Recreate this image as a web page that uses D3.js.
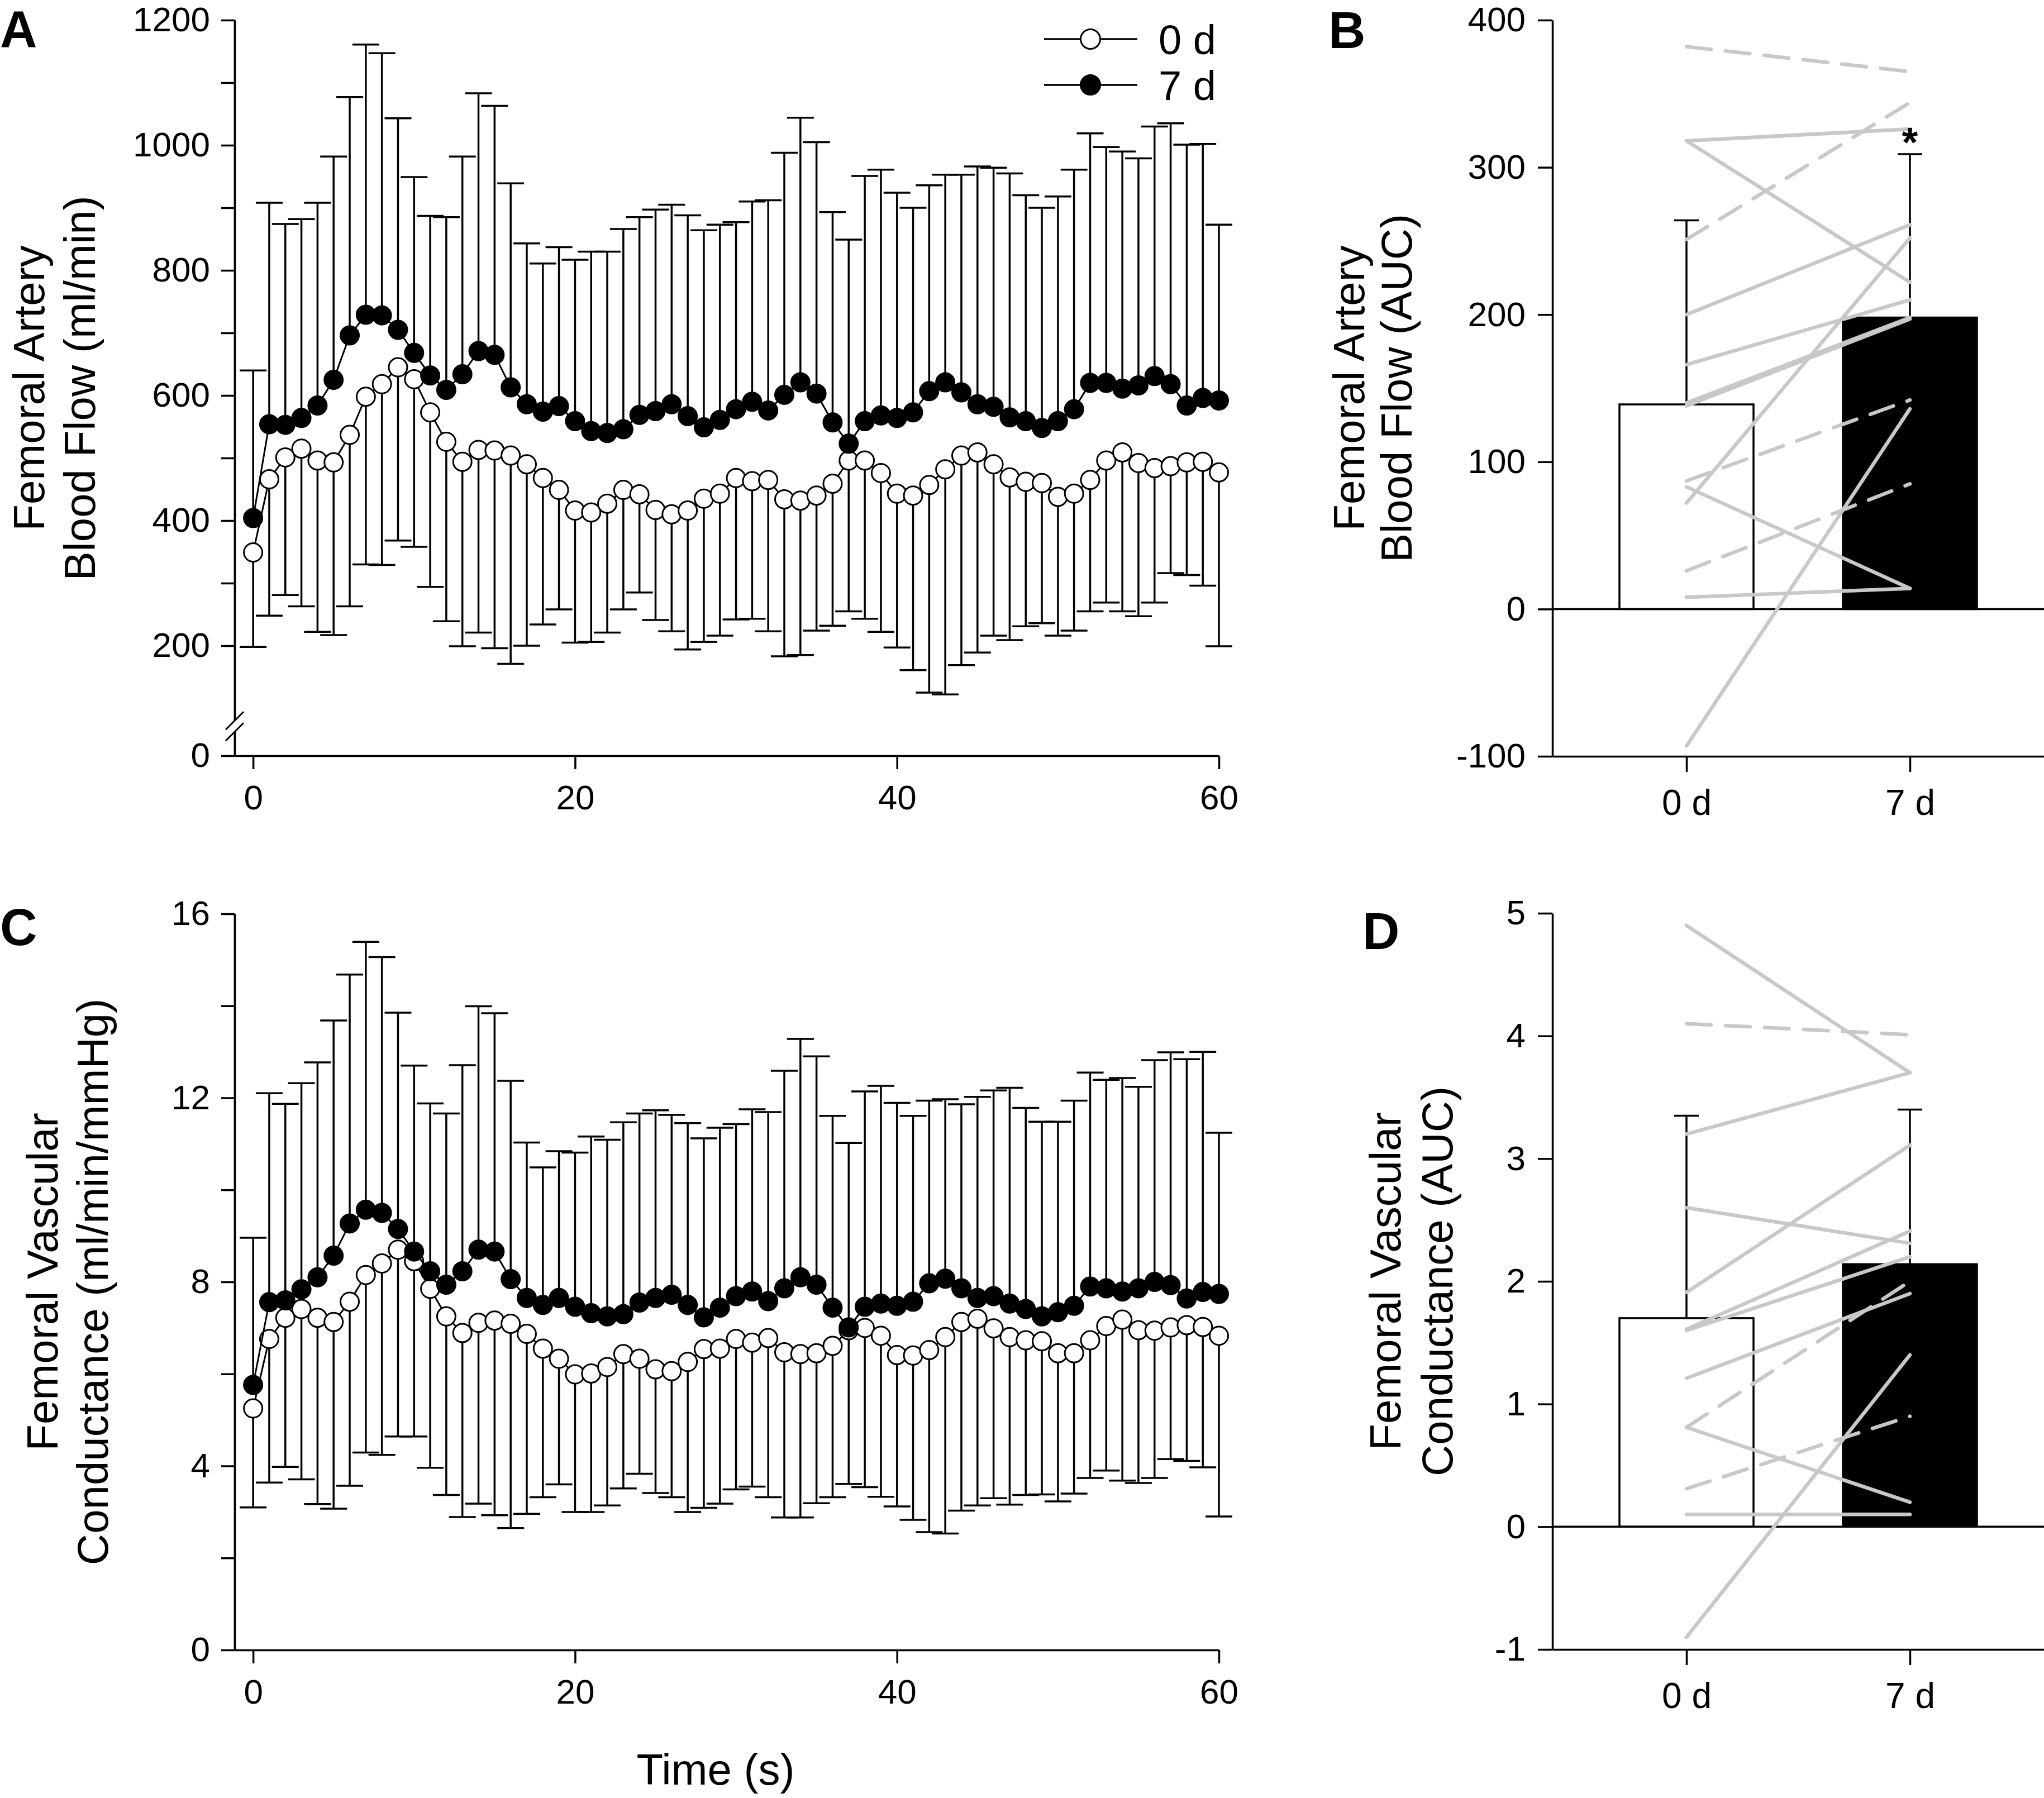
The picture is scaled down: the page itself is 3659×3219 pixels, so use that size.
<!DOCTYPE html>
<html>
<head>
<meta charset="utf-8">
<script src="https://cdn.jsdelivr.net/npm/d3@7"></script>
<style>
  body { margin: 0; background: #fff; }
  svg text { font-family: "Liberation Sans", Arial, Helvetica, sans-serif; fill: #000; }
</style>
</head>
<body>
<div id="chart"></div>
<script>
// time points (s)
const seconds = d3.range(0, 61);

// A: femoral artery blood flow (ml/min)
const flow0 = [349,466,501,515,496,493,537,598,618,645,626,573,526,494,513,512,504,490,468,449,416,413,427,449,442,417,410,416,435,443,468,463,465,434,432,440,459,496,496,476,443,440,457,482,504,509,490,469,462,460,438,443,465,496,509,492,484,487,493,494,477];
const flow0Low = [198,248,281,263,222,217,263,330,329,368,358,294,239,199,221,196,171,200,234,258,205,206,221,258,285,241,223,194,206,216,242,243,223,183,185,224,232,255,243,222,197,161,125,122,169,189,216,209,231,236,216,224,255,269,255,247,269,316,313,296,199];
const flow7 = [404,554,553,564,584,625,696,729,728,705,668,632,609,634,671,665,613,586,574,583,559,543,540,546,569,575,586,567,549,561,578,590,576,601,621,603,557,523,559,568,564,573,607,621,605,586,582,565,559,548,559,578,620,620,611,616,631,618,584,596,592];
const flow7High = [640,908,874,882,908,982,1077,1161,1147,1043,949,887,885,982,1083,1063,939,843,811,837,817,830,830,866,885,897,905,888,864,873,877,910,912,988,1044,1005,893,849,951,961,924,900,936,953,953,966,964,955,920,900,918,961,1019,997,990,979,1030,1035,1001,1002,873];

// C: femoral vascular conductance (ml/min/mmHg)
const cond0 = [5.25,6.76,7.22,7.41,7.22,7.13,7.57,8.15,8.40,8.70,8.45,7.85,7.25,6.89,7.11,7.16,7.09,6.87,6.55,6.33,5.99,6.01,6.15,6.43,6.33,6.10,6.06,6.26,6.54,6.55,6.76,6.68,6.78,6.47,6.43,6.45,6.61,6.95,7.00,6.83,6.41,6.40,6.52,6.80,7.13,7.20,6.99,6.80,6.73,6.71,6.45,6.45,6.73,7.04,7.18,6.95,6.94,7.01,7.06,7.02,6.83];
const cond0Low = [3.10,3.64,3.98,3.71,3.17,3.07,3.57,4.29,4.24,4.64,4.64,3.96,3.37,2.89,3.18,2.93,2.65,2.96,3.32,3.60,3.00,3.00,3.14,3.51,3.83,3.41,3.32,3.00,3.09,3.18,3.49,3.55,3.32,2.88,2.88,3.19,3.32,3.61,3.54,3.33,3.12,2.83,2.56,2.53,3.03,3.14,3.30,3.16,3.37,3.38,3.23,3.40,3.74,3.90,3.68,3.63,3.74,4.15,4.11,3.97,2.90];
const cond7 = [5.76,7.56,7.60,7.84,8.10,8.57,9.27,9.57,9.50,9.15,8.66,8.23,7.94,8.23,8.70,8.66,8.06,7.65,7.50,7.65,7.46,7.32,7.25,7.30,7.55,7.65,7.72,7.50,7.23,7.44,7.69,7.79,7.58,7.86,8.10,7.94,7.44,7.01,7.46,7.53,7.48,7.57,7.97,8.07,7.86,7.65,7.69,7.53,7.41,7.25,7.34,7.48,7.90,7.86,7.79,7.86,8.00,7.93,7.64,7.78,7.74];
const cond7High = [8.96,12.10,11.87,12.32,12.77,13.68,14.68,15.39,15.06,13.85,12.70,11.88,11.66,12.71,13.99,13.84,12.37,11.03,10.49,10.84,10.81,11.16,11.09,11.47,11.66,11.73,11.63,11.45,11.12,11.35,11.43,11.75,11.69,12.59,13.28,12.90,11.61,11.02,12.14,12.26,11.89,11.61,11.94,11.97,11.86,12.02,12.16,12.22,11.78,11.48,11.48,11.94,12.55,12.39,12.43,12.24,12.82,12.99,12.84,13.00,11.24];

// B and D: area under the curve, group means and individual subjects
const days = ['0 d', '7 d'];
const flowAuc = [139, 198];
const flowAucErr = [264, 309];
const flowSubj0 = [382, 318, 318, 251, 200, 166, 140, 138, 87, 83, 72, 26, 8, -93];
const flowSubj7 = [365, 326, 222, 344, 261, 210, 198, 197, 142, 14, 252, 85, 14, 136];
const flowSubjDashed = [true, false, false, true, false, false, false, false, true, false, false, true, false, false];

const condAuc = [1.70, 2.14];
const condAucErr = [3.35, 3.40];
const condSubj0 = [4.90, 4.10, 3.20, 2.60, 1.91, 1.61, 1.60, 1.21, 0.81, 0.81, 0.31, 0.10, -0.90];
const condSubj7 = [3.70, 4.01, 3.70, 2.31, 3.11, 2.41, 2.20, 1.90, 2.00, 0.20, 0.90, 0.10, 1.40];
const condSubjDashed = [false, true, false, false, false, false, false, false, true, false, true, false, false];

const width = 3659;
const height = 3219;
const tickFont = 62;
const titleFont = 78;

const svg = d3.select('#chart')
    .append('svg')
        .attr('width', width)
        .attr('height', height)
        .style('background', '#fff');

svg.append('rect').attr('width', width).attr('height', height).attr('fill', '#fff');

const x = d3.scaleLinear()
    .domain([-1.15, 60])
    .range([420, 2182]);
const yA = d3.scaleLinear()
    .domain([0, 100, 1200])
    .range([1353, 1268, 36]);
const yC = d3.scaleLinear()
    .domain([0, 16])
    .range([2954, 1636]);

const plain = d => String(d);

function styleAxis(g, size) {
    g.select('.domain').attr('stroke-width', 3.5);
    g.selectAll('.tick line').attr('stroke-width', 3.5);
    g.selectAll('.tick text')
        .style('font-size', size + 'px')
        .style('font-family', '"Liberation Sans", Arial, sans-serif');
}

function yTitle(g, lines, cx, cy) {
    lines.forEach((t, i) => {
        g.append('text')
            .attr('transform', `translate(${cx[i]},${cy}) rotate(-90)`)
            .attr('text-anchor', 'middle')
            .attr('dy', '0.35em')
            .style('font-size', titleFont + 'px')
            .text(t);
    });
}

function drawTime(y, mean0, low0, mean7, high7, major, minor) {
    const g = svg.append('g');
    const y0 = y.range()[0];

    g.append('g')
        .attr('transform', `translate(0,${y0})`)
        .call(d3.axisBottom(x)
            .tickValues([0, 20, 40, 60])
            .tickSize(24)
            .tickSizeOuter(0)
            .tickPadding(28)
            .tickFormat(plain))
        .call(g => styleAxis(g, tickFont));

    g.append('g')
        .attr('transform', `translate(${x.range()[0]},0)`)
        .call(d3.axisLeft(y)
            .tickValues(minor)
            .tickSize(24)
            .tickSizeOuter(0)
            .tickFormat(''))
        .call(g => styleAxis(g, tickFont));
    g.append('g')
        .attr('transform', `translate(${x.range()[0]},0)`)
        .call(d3.axisLeft(y)
            .tickValues(major)
            .tickSize(24)
            .tickSizeOuter(0)
            .tickPadding(20)
            .tickFormat(plain))
        .call(g => styleAxis(g, tickFont));

    const line = d3.line()
        .x((d, i) => x(seconds[i]))
        .y(d => y(d));

    // 0 d: error bars down, line, open circles
    const e0 = g.append('g').attr('stroke', '#000').attr('stroke-width', 3.5);
    e0.selectAll('line.stem')
        .data(mean0)
        .join('line')
            .attr('class', 'stem')
            .attr('x1', (d, i) => x(seconds[i]))
            .attr('x2', (d, i) => x(seconds[i]))
            .attr('y1', d => y(d))
            .attr('y2', (d, i) => y(low0[i]));
    e0.selectAll('line.cap')
        .data(low0)
        .join('line')
            .attr('class', 'cap')
            .attr('x1', (d, i) => x(seconds[i]) - 24)
            .attr('x2', (d, i) => x(seconds[i]) + 24)
            .attr('y1', d => y(d))
            .attr('y2', d => y(d));
    g.append('path')
        .attr('d', line(mean0))
        .attr('fill', 'none')
        .attr('stroke', '#000')
        .attr('stroke-width', 3);
    g.append('g')
        .selectAll('circle')
        .data(mean0)
        .join('circle')
            .attr('cx', (d, i) => x(seconds[i]))
            .attr('cy', d => y(d))
            .attr('r', 16.5)
            .attr('fill', '#fff')
            .attr('stroke', '#000')
            .attr('stroke-width', 3);

    // 7 d: error bars up, line, filled circles
    const e7 = g.append('g').attr('stroke', '#000').attr('stroke-width', 3.5);
    e7.selectAll('line.stem')
        .data(mean7)
        .join('line')
            .attr('class', 'stem')
            .attr('x1', (d, i) => x(seconds[i]))
            .attr('x2', (d, i) => x(seconds[i]))
            .attr('y1', d => y(d))
            .attr('y2', (d, i) => y(high7[i]));
    e7.selectAll('line.cap')
        .data(high7)
        .join('line')
            .attr('class', 'cap')
            .attr('x1', (d, i) => x(seconds[i]) - 24)
            .attr('x2', (d, i) => x(seconds[i]) + 24)
            .attr('y1', d => y(d))
            .attr('y2', d => y(d));
    g.append('path')
        .attr('d', line(mean7))
        .attr('fill', 'none')
        .attr('stroke', '#000')
        .attr('stroke-width', 3);
    g.append('g')
        .selectAll('circle')
        .data(mean7)
        .join('circle')
            .attr('cx', (d, i) => x(seconds[i]))
            .attr('cy', d => y(d))
            .attr('r', 16.5)
            .attr('fill', '#000')
            .attr('stroke', '#000')
            .attr('stroke-width', 3);
    return g;
}

const gA = drawTime(yA, flow0, flow0Low, flow7, flow7High,
    [0, 200, 400, 600, 800, 1000, 1200], [300, 500, 700, 900, 1100]);
const gC = drawTime(yC, cond0, cond0Low, cond7, cond7High,
    [0, 4, 8, 12, 16], [2, 6, 10, 14]);

// axis break on A
const ax = x.range()[0];
const bk = yA(62);
gA.append('polygon')
    .attr('points', [[ax - 14, bk - 10 + 14], [ax + 14, bk - 10 - 14], [ax + 14, bk + 10 - 14], [ax - 14, bk + 10 + 14]].join(' '))
    .attr('fill', '#fff');
[-10, 10].forEach(o => {
    gA.append('line')
        .attr('x1', ax - 16).attr('y1', bk + o + 16)
        .attr('x2', ax + 16).attr('y2', bk + o - 16)
        .attr('stroke', '#000').attr('stroke-width', 3);
});

// legend
const legend = gA.append('g').attr('transform', 'translate(1869,0)');
[['0 d', '#fff', 70], ['7 d', '#000', 152]].forEach(([label, fill, ly]) => {
    legend.append('line')
        .attr('x1', 0).attr('x2', 167)
        .attr('y1', ly).attr('y2', ly)
        .attr('stroke', '#000').attr('stroke-width', 3.5);
    legend.append('circle')
        .attr('cx', 83).attr('cy', ly).attr('r', 17.5)
        .attr('fill', fill).attr('stroke', '#000').attr('stroke-width', 3);
    legend.append('text')
        .attr('x', 205).attr('y', ly + 27)
        .style('font-size', '74px')
        .text(label);
});

yTitle(gA, ['Femoral Artery', 'Blood Flow (ml/min)'], [52, 143], 695);
yTitle(gC, ['Femoral Vascular', 'Conductance (ml/min/mmHg)'], [76, 166], 2295);

svg.append('text')
    .attr('x', 1281).attr('y', 3195)
    .attr('text-anchor', 'middle')
    .style('font-size', titleFont + 'px')
    .text('Time (s)');

// bar panels
const xB = d3.scalePoint()
    .domain(days)
    .range([2779, 3659])
    .padding(0.6);
const yB = d3.scaleLinear().domain([-100, 400]).range([1354, 36]);
const yD = d3.scaleLinear().domain([-1, 5]).range([2953, 1635]);

function drawBars(y, means, errs, s0, s7, dashed, ticks) {
    const g = svg.append('g');
    const bw = xB.step() * 0.6;

    g.append('g')
        .attr('transform', `translate(${xB.range()[0]},0)`)
        .call(d3.axisLeft(y)
            .tickValues(ticks)
            .tickSize(26)
            .tickSizeOuter(0)
            .tickPadding(22)
            .tickFormat(plain))
        .call(g => styleAxis(g, tickFont));
    g.append('g')
        .attr('transform', `translate(0,${y.range()[0]})`)
        .call(d3.axisBottom(xB)
            .tickSize(28)
            .tickSizeOuter(0)
            .tickPadding(32))
        .call(g => styleAxis(g, 64));

    // error bars above bars
    const e = g.append('g').attr('stroke', '#000').attr('stroke-width', 3.5);
    e.selectAll('line.stem')
        .data(errs)
        .join('line')
            .attr('class', 'stem')
            .attr('x1', (d, i) => xB(days[i]))
            .attr('x2', (d, i) => xB(days[i]))
            .attr('y1', (d, i) => y(means[i]))
            .attr('y2', d => y(d));
    e.selectAll('line.cap')
        .data(errs)
        .join('line')
            .attr('class', 'cap')
            .attr('x1', (d, i) => xB(days[i]) - 22)
            .attr('x2', (d, i) => xB(days[i]) + 22)
            .attr('y1', d => y(d))
            .attr('y2', d => y(d));

    g.append('g')
        .selectAll('rect')
        .data(means)
        .join('rect')
            .attr('x', (d, i) => xB(days[i]) - bw / 2)
            .attr('width', bw)
            .attr('y', d => y(d))
            .attr('height', d => y(0) - y(d))
            .attr('fill', (d, i) => i === 0 ? '#fff' : '#000')
            .attr('stroke', '#000')
            .attr('stroke-width', 3.5);

    g.append('line')
        .attr('x1', xB.range()[0]).attr('x2', xB.range()[1])
        .attr('y1', y(0)).attr('y2', y(0))
        .attr('stroke', '#000').attr('stroke-width', 3.5);

    g.append('g')
        .selectAll('line')
        .data(s0)
        .join('line')
            .attr('x1', xB(days[0]))
            .attr('x2', xB(days[1]))
            .attr('y1', d => y(d))
            .attr('y2', (d, i) => y(s7[i]))
            .attr('stroke', '#c8c8c8')
            .attr('stroke-width', 6.5)
            .attr('stroke-linecap', 'round')
            .attr('stroke-dasharray', (d, i) => dashed[i] ? '44,26' : null);
    return g;
}

const gB = drawBars(yB, flowAuc, flowAucErr, flowSubj0, flowSubj7, flowSubjDashed,
    [-100, 0, 100, 200, 300, 400]);
const gD = drawBars(yD, condAuc, condAucErr, condSubj0, condSubj7, condSubjDashed,
    [-1, 0, 1, 2, 3, 4, 5]);

gB.append('text')
    .attr('x', xB('7 d'))
    .attr('y', yB(flowAucErr[1]) + 4)
    .attr('text-anchor', 'middle')
    .style('font-size', '74px')
    .style('font-weight', 'bold')
    .text('*');

yTitle(gB, ['Femoral Artery', 'Blood Flow (AUC)'], [2415, 2500], 695);
yTitle(gD, ['Femoral Vascular', 'Conductance (AUC)'], [2480, 2573], 2294);

// panel letters
[['A', 0, 84], ['B', 2378, 86], ['C', 0, 1692], ['D', 2439, 1699]].forEach(([t, px, py]) => {
    svg.append('text')
        .attr('x', px).attr('y', py)
        .style('font-size', '92px')
        .style('font-weight', 'bold')
        .text(t);
});
</script>
</body>
</html>
